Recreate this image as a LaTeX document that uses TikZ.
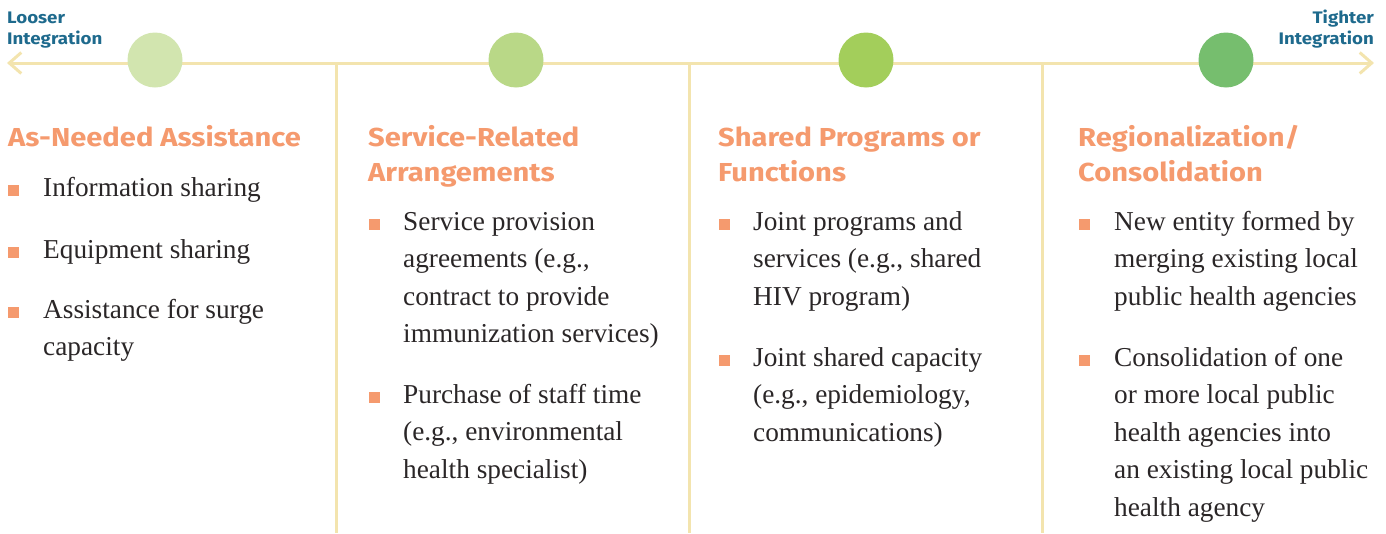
\documentclass[tikz,border=0pt]{standalone}
\usepackage{fontspec}
\setmainfont{Liberation Serif}
\newfontfamily\headfont[FakeStretch=1.12]{Fira Sans}
\usetikzlibrary{arrows.meta,positioning}
\definecolor{rulecol}{HTML}{F3E4AE}
\definecolor{headcol}{HTML}{F59A6E}
\definecolor{bluecol}{HTML}{1E6A8D}
\definecolor{txtcol}{HTML}{2A2627}
\definecolor{ca}{HTML}{D2E5AF}
\definecolor{cb}{HTML}{B9D887}
\definecolor{cc}{HTML}{A3CE5B}
\definecolor{cd}{HTML}{76BE6E}
\begin{document}
\begin{tikzpicture}[x=1pt, y=-1pt, line join=round,
  rulel/.style={draw=rulecol, line width=3pt},
  dot/.style={circle, minimum size=55pt, inner sep=0pt},
  head/.style={anchor=base west, inner sep=0pt, align=left, text=headcol,
    font=\headfont\bfseries\fontsize{26}{35}\selectfont},
  item/.style={anchor=base west, inner sep=0pt, align=left, text=txtcol,
    font=\fontsize{27.3}{37.5}\selectfont},
  bul/.style={fill=headcol, minimum size=11pt, inner sep=0pt},
  ends/.style={inner sep=0pt, text=bluecol,
    font=\headfont\bfseries\fontsize{16.7}{21}\selectfont}]
\useasboundingbox (0,0) rectangle (1386,533);
% axis and column rules
\coordinate (L) at (7,63);
\coordinate (R) at (1374,63);
\foreach \x in {336,689,1042}
  \draw[rulel] (\x,63) -- (\x,533);
\draw[rulel, {Straight Barb[length=12pt,width=21pt]}-{Straight Barb[length=12pt,width=21pt]}] (L) -- (R);
\foreach \i/\x/\c in {1/155/ca, 2/516/cb, 3/866/cc, 4/1226/cd}
  \node[dot, fill=\c] (d\i) at (\x,60) {};
% end labels (base = last line)
\node[ends, anchor=base west, align=left] (loose) at (7,44) {Looser\\Integration};
\node[ends, anchor=base east, align=right] (tight) at (1374,44) {Tighter\\Integration};
% headings
\node[head] (h1) at (8,146) {As-Needed Assistance};
\node[head] (h2) at (368,181) {Service-Related\\Arrangements};
\node[head] (h3) at (718,181) {Shared Programs or\\Functions};
\node[head] (h4) at (1078,181) {Regionalization/\\Consolidation};
% items: name/first baseline/lines/text
\foreach \n/\y/\k/\t in {1/196/1/{Information sharing}, 2/258/1/{Equipment sharing},
    3/318/2/{Assistance for surge\\capacity}}{
  \node[item] (a\n) at (43,{\y+37.5*(\k-1)}) {\t};
  \node[bul] (a\n b) at (13,{\y-5.5}) {};}
\foreach \n/\y/\k/\t in {1/230/4/{Service provision\\agreements (e.g.,\\contract to provide\\immunization services)},
    2/403/3/{Purchase of staff time\\(e.g., environmental\\health specialist)}}{
  \node[item] (b\n) at (403,{\y+37.5*(\k-1)}) {\t};
  \node[bul] (b\n b) at (374,{\y-5.5}) {};}
\foreach \n/\y/\k/\t in {1/230/3/{Joint programs and\\services (e.g., shared\\HIV program)},
    2/366/3/{Joint shared capacity\\(e.g., epidemiology,\\communications)}}{
  \node[item] (c\n) at (753,{\y+37.5*(\k-1)}) {\t};
  \node[bul] (c\n b) at (724,{\y-5.5}) {};}
\foreach \n/\y/\k/\t in {1/230/3/{New entity formed by\\merging existing local\\public health agencies},
    2/366/5/{Consolidation of one\\or more local public\\health agencies into\\an existing local public\\health agency}}{
  \node[item] (e\n) at (1114,{\y+37.5*(\k-1)}) {\t};
  \node[bul] (e\n b) at (1084,{\y-5.5}) {};}
\end{tikzpicture}
\end{document}
